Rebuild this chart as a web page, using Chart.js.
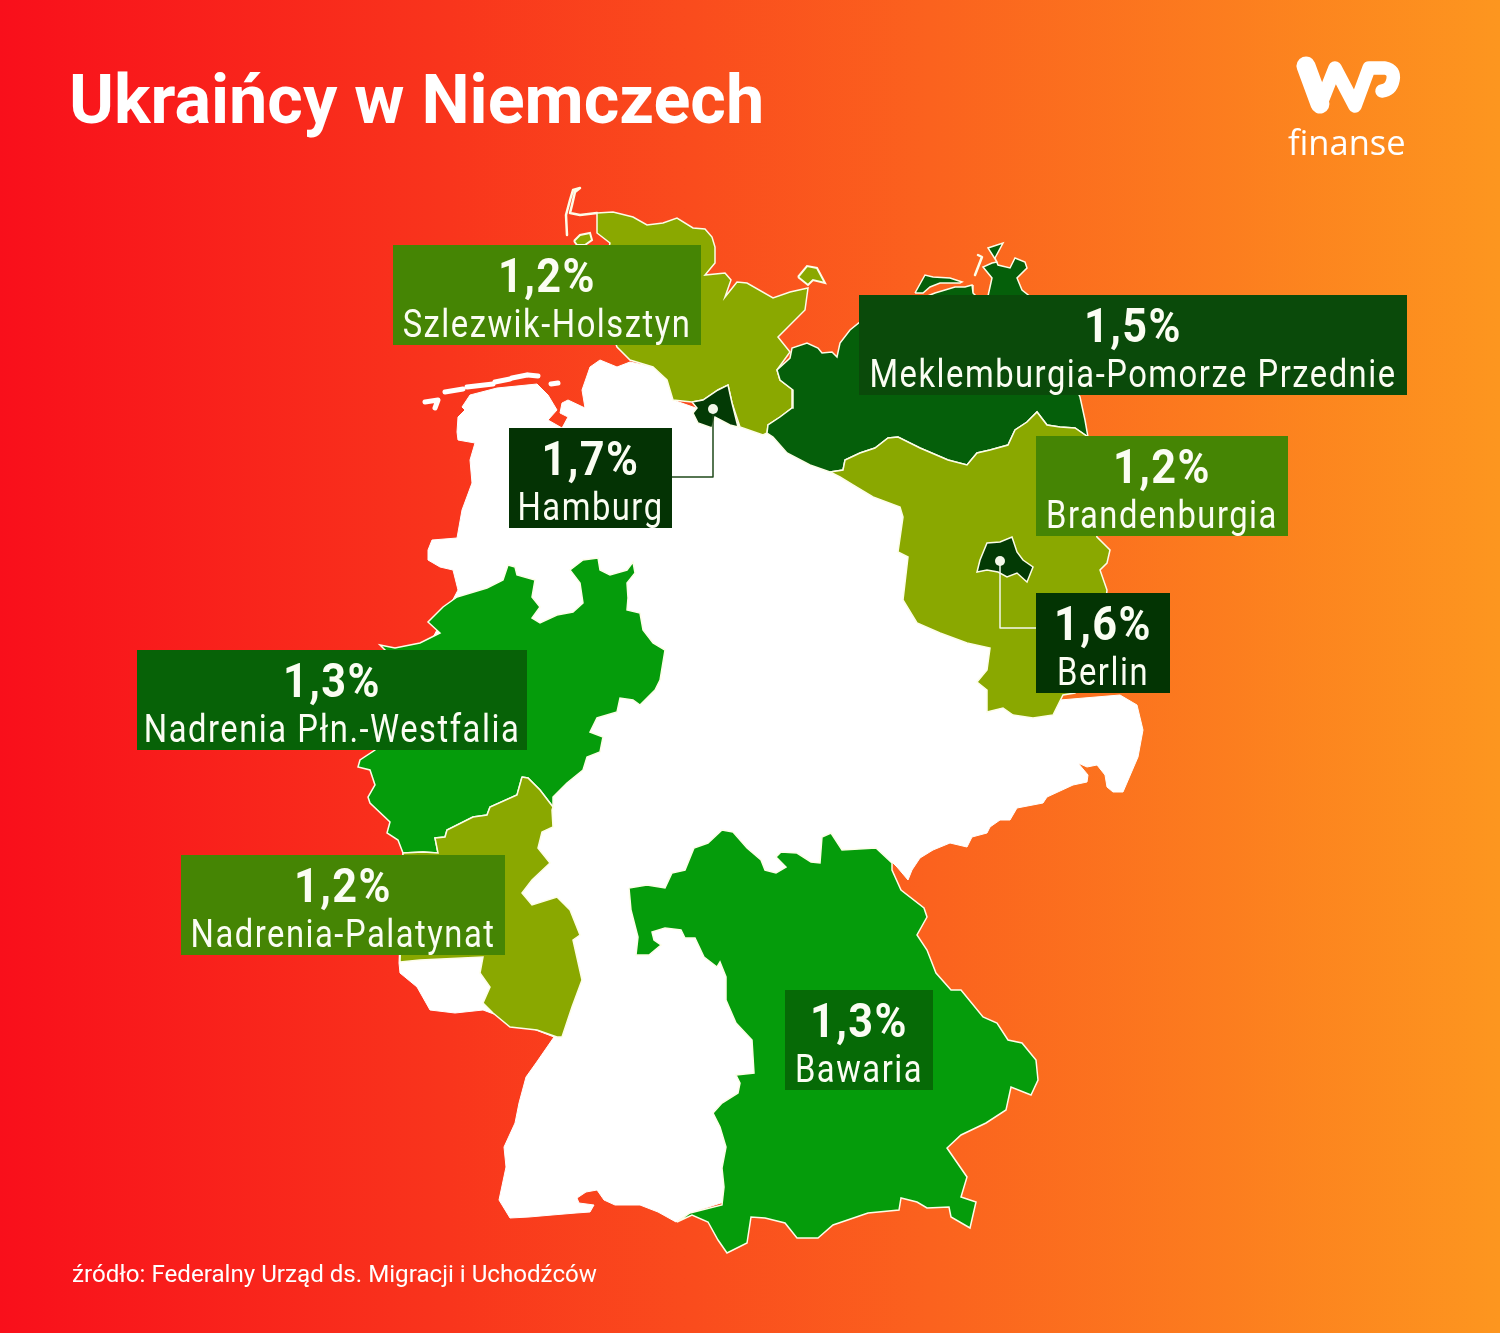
<!DOCTYPE html>
<html lang="pl">
<head>
<meta charset="utf-8">
<title>Ukraińcy w Niemczech</title>
<script src="https://cdn.jsdelivr.net/npm/chart.js@4"></script>
<style>
  html, body { margin: 0; padding: 0; }
  body {
    width: 1500px; height: 1333px; overflow: hidden;
    background: linear-gradient(90deg, #f90f1b 0%, #f9351c 30%, #fb621e 62%, #fd961f 100%);
  }
  canvas { display: block; }
</style>
</head>
<body>
<canvas id="map" width="1500" height="1333"></canvas>
<script>
// Values: share of Ukrainians per federal state (%)
const regionNames = ['Szlezwik-Holsztyn', 'Meklemburgia-Pomorze Przednie', 'Hamburg', 'Brandenburgia', 'Berlin', 'Nadrenia Płn.-Westfalia', 'Nadrenia-Palatynat', 'Bawaria'];
const shareValues = [1.2, 1.5, 1.7, 1.2, 1.6, 1.3, 1.2, 1.3];

// Outlines, in map units
const germanyOutline = [[590,367],[600,360],[617,367],[630,362],[653,367],[667,380],[673,400],[693,407],[730,420],[767,430],[790,450],[830,472],[930,500],[950,600],[1000,660],[1000,700],[1060,700],[1120,695],[1137,705],[1143,730],[1138,757],[1123,792],[1113,792],[1107,787],[1105,775],[1097,765],[1087,767],[1078,763],[1088,775],[1087,782],[1073,785],[1047,797],[1043,803],[1017,808],[1010,820],[1000,820],[990,827],[987,833],[972,837],[967,847],[950,843],[933,850],[920,858],[912,870],[908,880],[897,867],[892,862],[860,1000],[800,1100],[730,1200],[690,1213],[676,1222],[658,1212],[640,1205],[615,1205],[604,1200],[597,1190],[586,1192],[577,1198],[579,1203],[594,1205],[590,1212],[576,1213],[552,1215],[529,1217],[510,1218],[499,1200],[506,1167],[504,1147],[515,1123],[519,1103],[526,1077],[536,1063],[554,1037],[510,1020],[483,1010],[455,1013],[430,1010],[417,987],[400,973],[399,963],[403,853],[375,750],[400,700],[458,590],[453,570],[440,567],[428,560],[428,550],[432,540],[457,538],[462,510],[472,483],[470,460],[475,443],[458,440],[457,432],[458,417],[465,410],[462,407],[470,395],[497,388],[537,384],[548,395],[557,410],[548,420],[562,428],[568,417],[560,413],[562,403],[568,400],[585,408],[582,390]];
const schleswigOutline = [[597,213],[613,212],[633,217],[647,225],[663,223],[677,218],[693,228],[705,229],[712,237],[715,247],[715,263],[705,275],[725,273],[731,280],[725,297],[737,282],[747,283],[773,298],[790,292],[808,288],[805,310],[778,337],[790,352],[777,370],[780,380],[793,390],[792,408],[780,417],[768,425],[767,433],[763,435],[740,427],[732,403],[728,385],[718,390],[703,400],[692,402],[673,400],[667,380],[653,367],[630,360],[617,347],[607,320],[612,290],[605,265],[610,243],[597,233]];
const fohrOutline = [[574,241],[580,235],[590,233],[592,240],[585,245],[577,245]];
const fehmarnOutline = [[798,277],[807,266],[817,268],[825,283],[813,280],[808,285]];
const syltLine = [[567,235],[566,215],[570,200],[573,190],[580,188],[575,192],[572,205],[570,213],[580,215],[597,213]];
const mecklenburgOutline = [[767,433],[768,425],[780,417],[792,408],[793,390],[780,380],[777,370],[790,358],[792,348],[807,343],[818,348],[822,353],[832,352],[837,357],[840,343],[850,330],[860,322],[915,300],[925,297],[935,293],[945,290],[955,287],[965,287],[972,285],[973,293],[978,298],[988,296],[992,278],[983,267],[992,263],[997,262],[988,248],[1003,243],[995,258],[998,265],[1010,268],[1015,258],[1025,262],[1027,268],[1017,278],[1022,290],[1032,298],[1080,397],[1085,420],[1088,437],[1075,428],[1060,427],[1047,425],[1037,412],[1027,422],[1015,430],[1008,445],[990,450],[977,453],[967,465],[948,460],[920,448],[898,437],[888,438],[875,448],[860,453],[845,460],[843,470],[830,472],[810,465],[787,453],[773,437]];
const darssOutline = [[915,293],[925,275],[933,277],[950,278],[962,282],[960,283],[940,283],[930,287],[923,293]];
const hiddenseeLine = [[978,255],[982,257],[975,275]];
const brandenburgOutline = [[830,472],[843,470],[845,460],[860,453],[875,448],[888,438],[898,437],[920,448],[948,460],[967,465],[977,453],[990,450],[1008,445],[1015,430],[1027,422],[1037,412],[1047,425],[1060,427],[1075,428],[1088,437],[1085,500],[1097,537],[1110,550],[1107,563],[1100,570],[1107,590],[1100,650],[1075,693],[1063,695],[1053,715],[1033,718],[1013,715],[1003,708],[987,712],[987,690],[977,682],[987,670],[990,648],[967,643],[940,633],[917,623],[903,600],[908,557],[898,552],[903,517],[900,507],[873,497],[853,485],[840,477]];
const berlinOutline = [[980,560],[987,543],[1000,542],[1012,537],[1017,552],[1023,560],[1033,567],[1027,582],[1017,573],[1007,577],[998,572],[987,570],[977,572]];
const hamburgOutline = [[692,402],[703,400],[718,390],[728,385],[732,403],[738,427],[730,425],[715,417],[712,428],[698,423],[693,413],[697,408]];
const westphaliaOutline = [[457,597],[487,588],[503,580],[508,565],[515,567],[517,575],[535,580],[532,597],[540,607],[532,618],[540,623],[557,615],[573,612],[583,603],[580,583],[570,570],[583,560],[598,558],[600,570],[610,575],[627,570],[633,562],[635,573],[627,583],[628,598],[627,610],[640,613],[643,630],[653,643],[665,650],[660,680],[655,690],[640,705],[633,700],[620,698],[617,712],[597,718],[590,732],[603,737],[600,752],[587,757],[583,770],[567,783],[553,797],[553,807],[540,790],[528,778],[522,777],[517,795],[490,807],[487,815],[473,817],[447,830],[445,837],[435,838],[438,853],[423,852],[403,853],[398,840],[387,833],[390,822],[370,803],[368,797],[375,785],[370,770],[358,767],[360,760],[375,750],[395,700],[405,670],[380,645],[395,648],[420,643],[440,633],[428,622],[443,607]];
const palatinateOutline = [[522,777],[528,778],[540,790],[553,807],[552,810],[553,827],[542,832],[538,848],[550,863],[532,880],[522,893],[532,905],[557,897],[570,910],[580,935],[573,940],[582,980],[572,1007],[562,1037],[557,1037],[537,1030],[510,1027],[493,1013],[483,1003],[490,987],[480,973],[483,957],[420,960],[400,962],[402,900],[403,853],[423,852],[438,853],[435,838],[445,837],[447,830],[473,817],[487,815],[490,807],[517,795]];
const bavariaOutline = [[629,888],[647,885],[665,888],[672,873],[685,870],[694,848],[708,843],[722,830],[733,832],[747,848],[761,860],[765,870],[776,873],[786,867],[776,857],[781,852],[797,853],[811,862],[820,863],[822,837],[831,833],[842,850],[876,848],[892,863],[892,870],[901,890],[924,908],[927,917],[917,935],[927,950],[936,973],[951,990],[961,990],[983,1017],[997,1023],[1008,1040],[1022,1043],[1036,1060],[1038,1080],[1031,1095],[1011,1087],[1006,1110],[986,1123],[961,1135],[947,1148],[967,1177],[961,1197],[976,1202],[970,1228],[951,1217],[949,1207],[927,1208],[917,1202],[901,1198],[899,1210],[868,1213],[833,1225],[818,1238],[797,1238],[785,1223],[765,1218],[751,1217],[747,1243],[727,1253],[718,1240],[708,1222],[692,1215],[677,1222],[690,1213],[722,1205],[724,1187],[722,1168],[726,1147],[720,1127],[713,1113],[722,1103],[738,1093],[740,1083],[736,1075],[754,1073],[752,1040],[736,1023],[726,1000],[726,977],[720,962],[717,967],[704,957],[695,938],[685,938],[681,930],[665,928],[652,932],[654,940],[661,945],[649,955],[636,955],[638,937],[631,910]];
const frisianIslands = [
  [[425,402],[438,400],[435,408]],
  [[445,392],[463,389]],
  [[467,387],[493,384]],
  [[495,382],[510,379]],
  [[512,378],[527,375]],
  [[528,375],[538,376]],
  [[551,384],[558,383]]
];
const hamburgLeader = [[713,409],[713,477],[672,477]];
const berlinLeader = [[1000,561],[1000,628],[1036,628]];

const COLORS = { low: '#8aa800', mid: '#059c0b', high: '#055f0a', top: '#033a05', line: '#fdfde8' };

// label boxes: one entry per region, same order as regionNames
const boxLeft = [393, 859, 509, 1036, 1036, 137, 181, 785];
const boxRight = [701, 1407, 672, 1288, 1170, 527, 505, 933];
const boxTop = [245, 295, 428, 436, 593, 650, 855, 990];
const boxColors = ['#458504', '#0a4a0a', '#043304', '#458504', '#033403', '#076207', '#458504', '#066a06'];

const toPoints = pts => pts.map(p => ({ x: p[0], y: p[1] }));

function shape(pts, fillColor, lineColor, width) {
  const closed = pts.concat([pts[0]]);
  return {
    data: toPoints(closed), showLine: true, tension: 0, pointRadius: 0,
    fill: 'shape', backgroundColor: fillColor, borderColor: lineColor, borderWidth: width
  };
}

function stroke(pts, color, width) {
  return {
    data: toPoints(pts), showLine: true, tension: 0, pointRadius: 0, fill: false,
    borderColor: color, borderWidth: width, borderCapStyle: 'round', borderJoinStyle: 'round'
  };
}

// paint order, bottom first
const layers = [
  shape(germanyOutline, '#ffffff', '#ffffff', 1),
  ...frisianIslands.map(p => stroke(p, '#ffffff', 5)),
  stroke(syltLine, COLORS.line, 2.5),
  stroke(hiddenseeLine, COLORS.line, 2.5),
  shape(fohrOutline, COLORS.low, COLORS.line, 2),
  shape(fehmarnOutline, COLORS.low, COLORS.line, 2),
  shape(schleswigOutline, COLORS.low, COLORS.line, 1.5),
  shape(darssOutline, COLORS.high, COLORS.line, 1.5),
  shape(mecklenburgOutline, COLORS.high, COLORS.line, 1.5),
  shape(brandenburgOutline, COLORS.low, COLORS.line, 1.5),
  shape(westphaliaOutline, COLORS.mid, COLORS.line, 1.5),
  shape(palatinateOutline, COLORS.low, COLORS.line, 1.5),
  shape(bavariaOutline, COLORS.mid, COLORS.line, 1.5),
  shape(hamburgOutline, COLORS.top, COLORS.line, 1.5),
  shape(berlinOutline, COLORS.top, COLORS.line, 1.5),
  stroke(hamburgLeader, '#1f4a1a', 1.5),
  stroke(berlinLeader, '#f4f8ea', 1.5),
  { data: toPoints([hamburgLeader[0], berlinLeader[0]]), pointRadius: 5, backgroundColor: '#f4f8ea', borderWidth: 0, showLine: false }
];
layers.forEach((d, i) => { d.order = layers.length - i; });

function narrowText(ctx, text, cx, y, font, squeeze, spacing) {
  ctx.save();
  ctx.font = font;
  ctx.letterSpacing = spacing + 'px';
  ctx.textAlign = 'center';
  ctx.translate(cx, y);
  ctx.scale(squeeze, 1);
  ctx.fillText(text, 0, 0);
  ctx.restore();
}

function drawLogo(ctx) {
  ctx.save();
  ctx.strokeStyle = '#ffffff';
  ctx.lineCap = 'round';
  ctx.lineJoin = 'round';
  ctx.lineWidth = 19;
  ctx.beginPath();
  ctx.moveTo(1306, 66);
  ctx.lineTo(1320, 104);
  ctx.stroke();
  ctx.lineWidth = 13.5;
  ctx.beginPath();
  ctx.moveTo(1320, 106);
  ctx.lineTo(1335, 68);
  ctx.lineTo(1355, 106);
  ctx.lineTo(1369, 68);
  ctx.lineTo(1385, 68);
  ctx.quadraticCurveTo(1395, 70, 1393, 80);
  ctx.quadraticCurveTo(1391, 90, 1382, 91);
  ctx.stroke();
  ctx.restore();
}

// title, source, logo and the value boxes
const annotations = {
  id: 'annotations',
  afterDatasetsDraw(chart) {
    const { ctx, scales: { x, y } } = chart;
    regionNames.forEach((name, i) => {
      const left = x.getPixelForValue(boxLeft[i]);
      const right = x.getPixelForValue(boxRight[i]);
      const top = y.getPixelForValue(boxTop[i]);
      ctx.fillStyle = boxColors[i];
      ctx.fillRect(left, top, right - left, 100);
      ctx.fillStyle = '#fbfdf3';
      const cx = (left + right) / 2;
      narrowText(ctx, shareValues[i].toFixed(1).replace('.', ',') + '%', cx, top + 47, 'bold 48px Roboto', 0.9, 1.6);
      narrowText(ctx, name, cx, top + 92, '39px Roboto', 0.84, 1.8);
    });
    ctx.fillStyle = '#ffffff';
    ctx.textAlign = 'left';
    ctx.font = 'bold 68.3px Roboto';
    ctx.fillText('Ukraińcy w Niemczech', 69, 123);
    ctx.font = '24.15px Roboto';
    ctx.fillText('źródło: Federalny Urząd ds. Migracji i Uchodźców', 72, 1282);
    ctx.font = '34.5px "Open Sans"';
    ctx.fillText('finanse', 1288, 155);
    drawLogo(ctx);
  }
};

new Chart(document.getElementById('map'), {
  type: 'scatter',
  data: { datasets: layers },
  options: {
    responsive: false,
    animation: false,
    devicePixelRatio: 1,
    layout: { padding: 0, autoPadding: false },
    plugins: { legend: { display: false }, tooltip: { enabled: false } },
    scales: {
      x: { type: 'linear', min: 0, max: 1500, display: false },
      y: { type: 'linear', min: 0, max: 1333, reverse: true, display: false }
    }
  },
  plugins: [annotations]
});
</script>
</body>
</html>
